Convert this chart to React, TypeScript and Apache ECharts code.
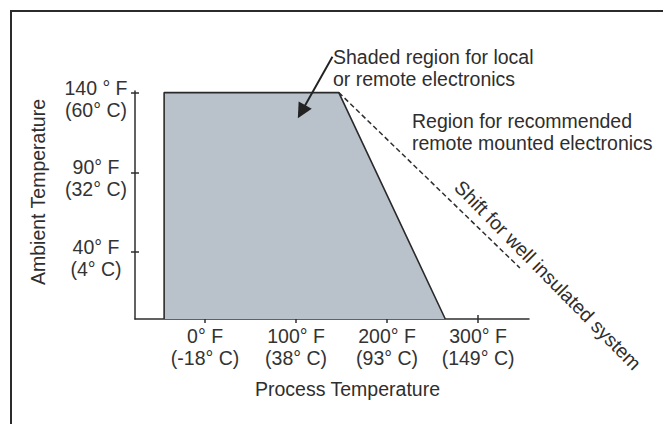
import React, { useEffect, useRef } from 'react';
import * as echarts from 'echarts';

const xTicks = [0, 100, 200, 300];
const xTickLabels = ['0° F\n(-18° C)', '100° F\n(38° C)', '200° F\n(93° C)', '300° F\n(149° C)'];
const yTicks = [40, 90, 140];
const yTickTop = ['40° F', '90° F', '140 ° F'];
const yTickBottom = ['(4° C)', '(32° C)', '(60° C)'];
const xRange = [-77, 356];
const yRange = [-2, 141];
const regionX = [-45, -45, 147, 264];
const regionY = [-2, 140, 140, -2];
const shiftX = [147, 346];
const shiftY = [140, 30];
const arrowFrom = [140, 162.5];
const arrowTo = [106, 128];
const xName = 'Process Temperature';
const yName = 'Ambient Temperature';
const noteShaded = 'Shaded region for local\nor remote electronics';
const noteRemote = 'Region for recommended\nremote mounted electronics';
const noteShift = 'Shift for well insulated system';

const FONT = '"Liberation Sans", Arial, Helvetica, sans-serif';
const INK = '#2e2e2e';
const FS = 19.5;

export default function App() {
  const ref = useRef<HTMLDivElement>(null);
  useEffect(() => {
    if (!ref.current) return;
    const chart = echarts.init(ref.current, null, { renderer: 'svg' });
    const tickStyle = { color: INK, width: 1.5 };
    const labelStyle = { fontSize: FS, lineHeight: 22, color: '#333333', fontFamily: FONT };
    chart.setOption({
      animation: false,
      backgroundColor: '#ffffff',
      grid: { left: 135, right: 134, top: 91, bottom: 105 },
      xAxis: [
        {
          type: 'value', min: xRange[0], max: xRange[1], position: 'bottom',
          axisLine: { onZero: false, lineStyle: { color: INK, width: 1.5 } },
          axisTick: { customValues: xTicks, inside: true, length: 4, lineStyle: tickStyle },
          axisLabel: {
            customValues: xTicks, margin: 6, ...labelStyle,
            formatter: (v: number) => xTickLabels[xTicks.indexOf(v)] ?? '',
          },
          splitLine: { show: false },
          name: xName, nameLocation: 'middle', nameGap: 60,
          nameTextStyle: { fontSize: FS, color: INK, fontFamily: FONT, padding: [0, 0, 0, 31] },
        },
        {
          type: 'value', min: xRange[0], max: xRange[1], position: 'bottom',
          axisLine: { show: false, onZero: false },
          axisTick: { customValues: xTicks, inside: false, length: 4, lineStyle: tickStyle },
          axisLabel: { show: false },
          splitLine: { show: false },
        },
      ],
      yAxis: [
        {
          type: 'value', min: yRange[0], max: yRange[1], position: 'left',
          axisLine: { show: true, onZero: false, lineStyle: { color: INK, width: 1.5 } },
          axisTick: { show: true, customValues: yTicks, inside: true, length: 4, lineStyle: tickStyle },
          axisLabel: {
            customValues: yTicks, margin: 39, align: 'center', ...labelStyle,
            formatter: (v: number) => {
              const i = yTicks.indexOf(v);
              return i < 0 ? '' : `{s| }\n{t|${yTickTop[i]}}\n{t|${yTickBottom[i]}}`;
            },
            rich: {
              s: { fontSize: 6, lineHeight: 12 },
              t: { fontSize: FS, lineHeight: 22, color: '#333333', fontFamily: FONT },
            },
          },
          splitLine: { show: false },
          name: yName, nameLocation: 'middle', nameGap: 87,
          nameTextStyle: { fontSize: FS, color: INK, fontFamily: FONT, padding: [0, 0, 0, 26] },
        },
        {
          type: 'value', min: yRange[0], max: yRange[1], position: 'left',
          axisLine: { show: false, onZero: false },
          axisTick: { show: true, customValues: yTicks, inside: false, length: 4, lineStyle: tickStyle },
          axisLabel: { show: false },
          splitLine: { show: false },
        },
      ],
      series: [
        {
          type: 'line', xAxisIndex: 0, yAxisIndex: 0,
          data: regionX.map((x, i) => [x, regionY[i]]),
          symbol: 'none',
          lineStyle: { color: '#2a2a2a', width: 1.6 },
          areaStyle: { color: '#b9c1cb', opacity: 1, origin: 'start' },
          z: 1,
        },
        {
          type: 'line', xAxisIndex: 0, yAxisIndex: 0,
          data: shiftX.map((x, i) => [x, shiftY[i]]),
          symbol: 'none',
          lineStyle: { color: INK, width: 1.5, type: [5, 3] },
          z: 3,
        },
        {
          type: 'lines', coordinateSystem: 'cartesian2d', xAxisIndex: 0, yAxisIndex: 0,
          clip: false,
          symbol: ['none', 'triangle'],
          symbolSize: [10, 15],
          lineStyle: { color: '#222222', width: 2, opacity: 1 },
          data: [{ coords: [arrowFrom, arrowTo] }],
          z: 4,
        },
      ],
      graphic: [
        {
          type: 'rect', silent: true,
          shape: { x: 11, y: 11, width: 800, height: 600 },
          style: { fill: 'none', stroke: '#2b2b2b', lineWidth: 2 },
        },
        {
          type: 'text', x: 333, y: 46,
          style: { text: noteShaded, fontSize: FS, lineHeight: 22, fill: INK, fontFamily: FONT, textVerticalAlign: 'top' },
        },
        {
          type: 'text', x: 412, y: 110,
          style: { text: noteRemote, fontSize: FS, lineHeight: 22, fill: INK, fontFamily: FONT, textVerticalAlign: 'top' },
        },
        {
          type: 'text', x: 548, y: 275, rotation: -45.5 * Math.PI / 180,
          style: { text: noteShift, fontSize: FS, fill: INK, fontFamily: FONT, textAlign: 'center', textVerticalAlign: 'middle' },
        },
      ],
    });
    return () => chart.dispose();
  }, []);
  return <div ref={ref} style={{ position: 'fixed', left: 0, top: 0, width: 663, height: 424 }} />;
}
